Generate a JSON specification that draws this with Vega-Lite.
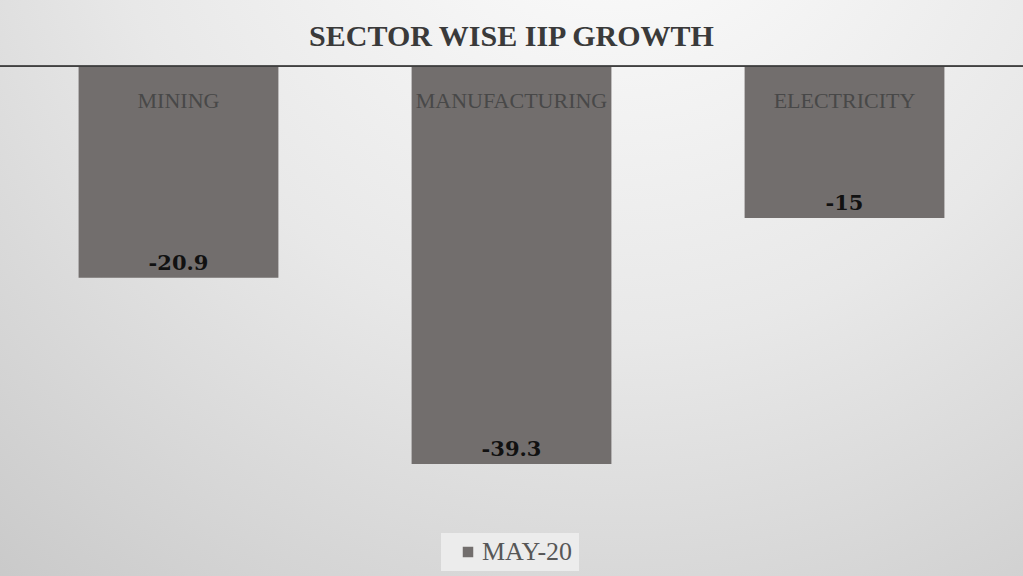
{
  "$schema": "https://vega.github.io/schema/vega-lite/v6.json",
  "autosize": "none",
  "width": 1023,
  "height": 576,
  "padding": 0,
  "background": "#d0d0d0",
  "title": {
    "text": "SECTOR WISE IIP GROWTH",
    "font": "Liberation Serif, serif",
    "fontWeight": "bold",
    "fontSize": 30,
    "color": "#3a3a3a",
    "anchor": "middle",
    "offset": -52
  },
  "data": {
    "values": [
      {"sector": "MINING", "series": "MAY-20", "growth": -20.9},
      {"sector": "MANUFACTURING", "series": "MAY-20", "growth": -39.3},
      {"sector": "ELECTRICITY", "series": "MAY-20", "growth": -15}
    ]
  },
  "layer": [
    {
      "data": {"values": [{"bg": 1}]},
      "mark": {
        "type": "rect",
        "color": {
          "gradient": "radial",
          "x1": 0.6, "y1": 0.05, "r1": 0,
          "x2": 0.6, "y2": 0.05, "r2": 1.0,
          "stops": [
            {"offset": 0, "color": "#ffffff"},
            {"offset": 0.5, "color": "#e8e8e8"},
            {"offset": 1, "color": "#c6c6c6"}
          ]
        }
      },
      "encoding": {}
    },
    {
      "mark": {"type": "bar", "color": "#726e6d"},
      "encoding": {
        "x": {
          "field": "sector", "type": "nominal", "sort": null,
          "scale": {"paddingInner": 0.4, "paddingOuter": 0.236},
          "axis": null
        },
        "y": {
          "field": "growth", "type": "quantitative",
          "scale": {"domain": [-50.35, 6.52], "nice": false, "zero": false},
          "axis": null
        },
        "color": {
          "field": "series", "type": "nominal",
          "scale": {"range": ["#726e6d"]},
          "legend": {
            "title": null,
            "orient": "none",
            "legendX": 441,
            "legendY": 533,
            "fillColor": "#ececec",
            "padding": 6,
            "symbolType": "square",
            "symbolSize": 110,
            "symbolOffset": 8,
            "labelFont": "Liberation Serif, serif",
            "labelFontSize": 26,
            "labelColor": "#575757",
            "labelOffset": 1,
            "symbolStrokeWidth": 0
          }
        }
      }
    },
    {
      "mark": {"type": "rule", "color": "#3f3f3f", "strokeWidth": 1.3},
      "encoding": {"y": {"datum": 0}}
    },
    {
      "mark": {
        "type": "text",
        "font": "Liberation Serif, serif",
        "fontSize": 22,
        "color": "#484848",
        "baseline": "middle",
        "dy": 35
      },
      "encoding": {
        "x": {"field": "sector", "type": "nominal", "sort": null},
        "y": {"datum": 0},
        "text": {"field": "sector"}
      }
    },
    {
      "mark": {
        "type": "text",
        "font": "DejaVu Serif, serif",
        "fontWeight": "bold",
        "fontSize": 21,
        "color": "#111111",
        "baseline": "alphabetic",
        "dy": -8
      },
      "encoding": {
        "x": {"field": "sector", "type": "nominal", "sort": null},
        "y": {"field": "growth", "type": "quantitative"},
        "text": {"field": "growth", "type": "nominal"}
      }
    }
  ]
}
